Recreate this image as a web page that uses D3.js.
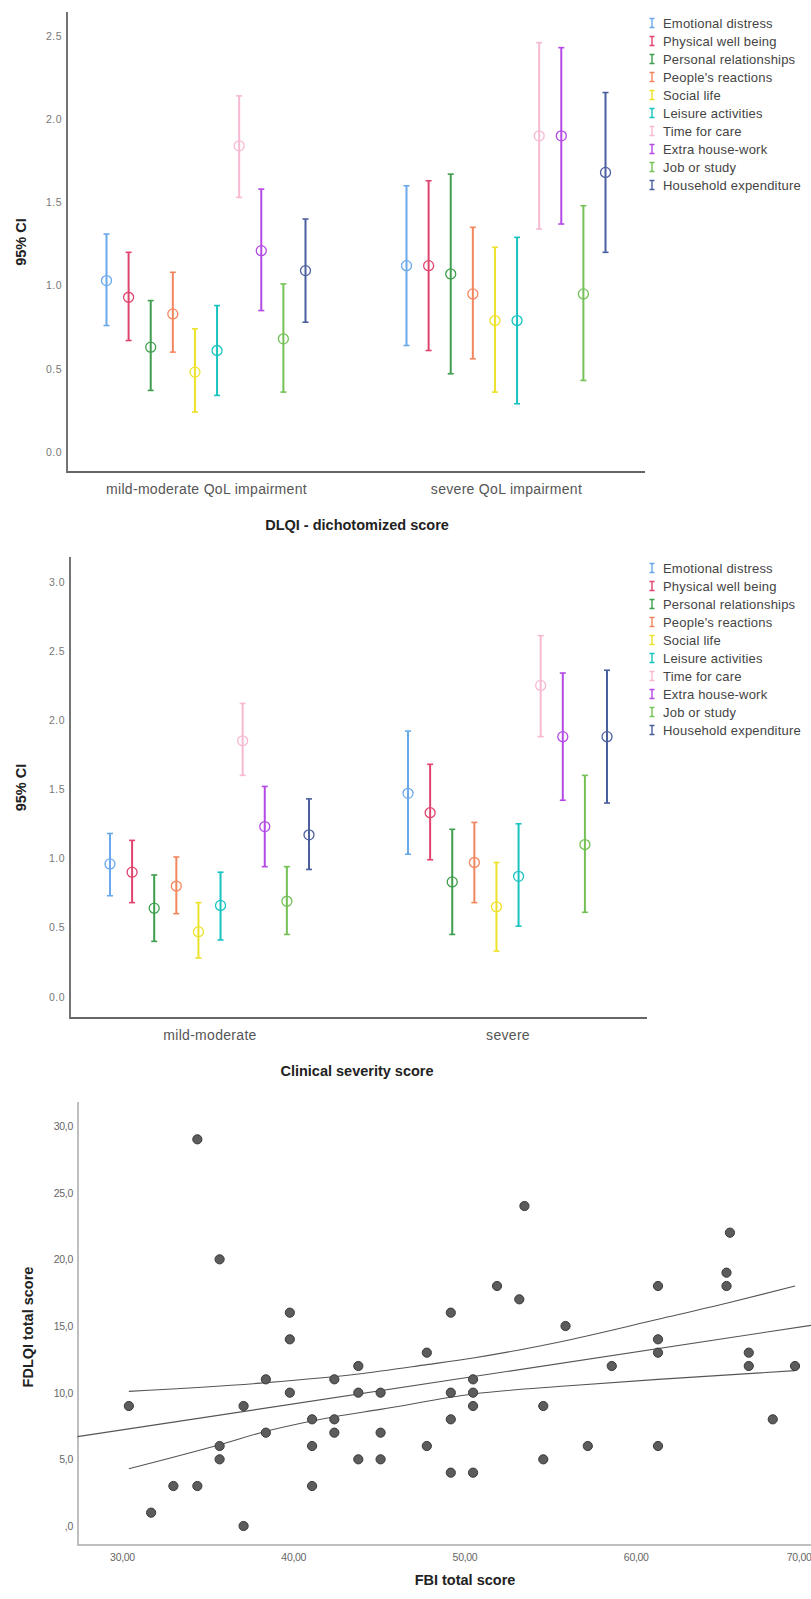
<html>
<meta charset="utf-8" />
<script src="https://d3js.org/d3.v7.min.js"></script>
<style>
  body { margin: 0; background: #fff; }
  text { font-family: "Liberation Sans", Arial, sans-serif; }
  .ci .tick text { fill: #777; font-size: 10.5px; letter-spacing: 0.5px; }
  .cat .tick text { fill: #555; font-size: 14px; letter-spacing: 0.3px; }
  .sc .tick text { fill: #666; font-size: 10.5px; letter-spacing: -0.3px; }
  .legend text { fill: #444; font-size: 13px; letter-spacing: 0.2px; }
  .ytitle, .xtitle { fill: #222; font-size: 14.5px; font-weight: bold; }
</style>
<body>
<svg id="fig" width="811" height="1599"></svg>
<script>
  // domains
  const series = [
    "Emotional distress", "Physical well being", "Personal relationships",
    "People's reactions", "Social life", "Leisure activities",
    "Time for care", "Extra house-work", "Job or study", "Household expenditure"
  ];
  const seriesColors = [
    "#6aa8ec", "#e0446e", "#3f9e4e", "#f3865e", "#ede22a",
    "#17c3c0", "#f7b9d2", "#b449e6", "#74c156", "#4a5f9e"
  ];

  // chart 1 : DLQI dichotomized
  const dlqiCats = ["mild-moderate QoL impairment", "severe QoL impairment"];
  const dlqiMeanMild = [1.03, 0.93, 0.63, 0.83, 0.48, 0.61, 1.84, 1.21, 0.68, 1.09];
  const dlqiLowMild  = [0.76, 0.67, 0.37, 0.60, 0.24, 0.34, 1.53, 0.85, 0.36, 0.78];
  const dlqiHighMild = [1.31, 1.20, 0.91, 1.08, 0.74, 0.88, 2.14, 1.58, 1.01, 1.40];
  const dlqiMeanSev  = [1.12, 1.12, 1.07, 0.95, 0.79, 0.79, 1.90, 1.90, 0.95, 1.68];
  const dlqiLowSev   = [0.64, 0.61, 0.47, 0.56, 0.36, 0.29, 1.34, 1.37, 0.43, 1.20];
  const dlqiHighSev  = [1.60, 1.63, 1.67, 1.35, 1.23, 1.29, 2.46, 2.43, 1.48, 2.16];
  const dlqiTicks = [0, 0.5, 1.0, 1.5, 2.0, 2.5];

  // chart 2 : clinical severity
  const sevCats = ["mild-moderate", "severe"];
  const sevMeanMild = [0.96, 0.90, 0.64, 0.80, 0.47, 0.66, 1.85, 1.23, 0.69, 1.17];
  const sevLowMild  = [0.73, 0.68, 0.40, 0.60, 0.28, 0.41, 1.60, 0.94, 0.45, 0.92];
  const sevHighMild = [1.18, 1.13, 0.88, 1.01, 0.68, 0.90, 2.12, 1.52, 0.94, 1.43];
  const sevMeanSev  = [1.47, 1.33, 0.83, 0.97, 0.65, 0.87, 2.25, 1.88, 1.10, 1.88];
  const sevLowSev   = [1.03, 0.99, 0.45, 0.68, 0.33, 0.51, 1.88, 1.42, 0.61, 1.40];
  const sevHighSev  = [1.92, 1.68, 1.21, 1.26, 0.97, 1.25, 2.61, 2.34, 1.60, 2.36];
  const sevTicks = [0, 0.5, 1.0, 1.5, 2.0, 2.5, 3.0];

  // chart 3 : scatter FBI vs FDLQI
  const fbi = [30.4, 31.7, 33.0, 34.4, 34.4, 35.7, 35.7, 35.7, 37.1, 37.1,
    38.4, 38.4, 39.8, 39.8, 39.8, 41.1, 41.1, 41.1, 42.4, 42.4, 42.4,
    43.8, 43.8, 43.8, 45.1, 45.1, 45.1, 47.8, 47.8, 49.2, 49.2, 49.2, 49.2,
    50.5, 50.5, 50.5, 50.5, 51.9, 53.2, 53.5, 54.6, 54.6, 55.9, 57.2, 58.6,
    61.3, 61.3, 61.3, 61.3, 65.3, 65.3, 65.5, 66.6, 66.6, 68.0, 69.3];
  const fdlqi = [9, 1, 3, 3, 29, 20, 6, 5, 9, 0,
    11, 7, 16, 14, 10, 8, 6, 3, 11, 8, 7,
    12, 10, 5, 10, 7, 5, 13, 6, 16, 10, 8, 4,
    11, 10, 9, 4, 18, 17, 24, 9, 5, 15, 6, 12,
    18, 14, 13, 6, 19, 18, 22, 13, 12, 8, 12];
  const fitX = [27.4, 70.5];
  const fitY = [6.7, 15.1];
  const ciUpX = [30.4, 38.4, 43.8, 47.8, 50.5, 55.9, 61.3, 65.3, 69.3];
  const ciUpY = [10.1, 10.75, 11.4, 12.1, 12.6, 13.9, 15.5, 16.7, 18.0];
  const ciLoX = [30.4, 35.7, 38.4, 42.4, 45.1, 50.5, 55.9, 61.3, 69.3];
  const ciLoY = [4.3, 6.1, 7.1, 8.2, 8.75, 9.9, 10.5, 11.0, 11.65];
  const scXTicks = [30, 40, 50, 60, 70];
  const scXLabels = ["30,00", "40,00", "50,00", "60,00", "70,00"];
  const scYTicks = [0, 5, 10, 15, 20, 25, 30];
  const scYLabels = [",0", "5,0", "10,0", "15,0", "20,0", "25,0", "30,0"];

  const svg = d3.select("#fig");

  function ciPanel(c) {
    const y = d3.scaleLinear().domain([0, c.ticks[c.ticks.length - 1]])
      .range([c.zeroY, c.maxY]);
    const x0 = d3.scalePoint().domain(c.cats).range([c.left, c.right]).padding(c.pad);
    const x1 = d3.scalePoint().domain(series).range([-99.5, 99.5]);

    svg.append("g").attr("class", "ci")
      .attr("transform", `translate(${c.left - 5},0)`)
      .call(d3.axisLeft(y).tickValues(c.ticks).tickSize(0).tickPadding(0)
        .tickFormat(d3.format(".1f")))
      .call(g => g.select(".domain").remove());

    svg.append("g").attr("class", "cat")
      .attr("transform", `translate(0,${c.bottom})`)
      .call(d3.axisBottom(x0).tickSize(0).tickPadding(12))
      .call(g => g.select(".domain").remove());

    svg.append("path")
      .attr("d", `M${c.left},${c.top}V${c.bottom}H${c.right}`)
      .attr("fill", "none").attr("stroke", "#666").attr("stroke-width", 1.8);

    const rows = [];
    c.cats.forEach((cat, ci) => {
      series.forEach((s, si) => {
        rows.push({
          x: x0(cat) + x1(s), m: c.mean[ci][si], lo: c.low[ci][si],
          hi: c.high[ci][si], col: seriesColors[si]
        });
      });
    });

    const g = svg.append("g").selectAll("g").data(rows).join("g");
    g.append("line").attr("x1", d => d.x).attr("x2", d => d.x)
      .attr("y1", d => y(d.lo)).attr("y2", d => y(d.hi))
      .attr("stroke", d => d.col).attr("stroke-width", 2);
    g.append("line").attr("x1", d => d.x - 3).attr("x2", d => d.x + 3)
      .attr("y1", d => y(d.hi)).attr("y2", d => y(d.hi))
      .attr("stroke", d => d.col).attr("stroke-width", 1.6);
    g.append("line").attr("x1", d => d.x - 3).attr("x2", d => d.x + 3)
      .attr("y1", d => y(d.lo)).attr("y2", d => y(d.lo))
      .attr("stroke", d => d.col).attr("stroke-width", 1.6);
    g.append("circle").attr("cx", d => d.x).attr("cy", d => y(d.m)).attr("r", 5)
      .attr("fill", "none").attr("stroke", d => d.col).attr("stroke-width", 1.3);

    svg.append("text").attr("class", "ytitle")
      .attr("transform", `translate(26,${(c.top + c.bottom) / 2}) rotate(-90)`)
      .attr("text-anchor", "middle").text("95% CI");

    svg.append("text").attr("class", "xtitle")
      .attr("x", 357).attr("y", c.titleY)
      .attr("text-anchor", "middle").text(c.title);

    const leg = svg.append("g").attr("class", "legend")
      .selectAll("g").data(series).join("g")
      .attr("transform", (d, i) => `translate(652,${c.legY + 18 * i})`);
    leg.append("path").attr("d", "M-2.5,-4.5H2.5M0,-4.5V4.5M-2.5,4.5H2.5")
      .attr("fill", "none").attr("stroke", (d, i) => seriesColors[i]).attr("stroke-width", 1.4);
    leg.append("text").attr("x", 11).attr("dy", "0.36em").text(d => d);
  }

  ciPanel({
    cats: dlqiCats, ticks: dlqiTicks,
    mean: [dlqiMeanMild, dlqiMeanSev], low: [dlqiLowMild, dlqiLowSev],
    high: [dlqiHighMild, dlqiHighSev],
    left: 67, right: 645, top: 12, bottom: 472, zeroY: 452, maxY: 36, pad: 0.4633,
    title: "DLQI - dichotomized score", titleY: 530, legY: 23
  });

  ciPanel({
    cats: sevCats, ticks: sevTicks,
    mean: [sevMeanMild, sevMeanSev], low: [sevLowMild, sevLowSev],
    high: [sevHighMild, sevHighSev],
    left: 70, right: 647, top: 557, bottom: 1018, zeroY: 996.7, maxY: 581.7, pad: 0.468,
    title: "Clinical severity score", titleY: 1076, legY: 568
  });

  // scatter
  const sx = d3.scaleLinear().domain([30, 70]).range([122, 807]);
  const sy = d3.scaleLinear().domain([0, 30]).range([1526, 1126]);
  const sLeft = 78, sTop = 1102, sBottom = 1545;

  svg.append("g").attr("class", "sc")
    .attr("transform", `translate(${sLeft - 5},0)`)
    .call(d3.axisLeft(sy).tickValues(scYTicks).tickSize(0).tickPadding(0)
      .tickFormat((d, i) => scYLabels[i]))
    .call(g => g.select(".domain").remove());

  svg.append("g").attr("class", "sc")
    .attr("transform", `translate(0,${sBottom})`)
    .call(d3.axisBottom(sx).tickValues(scXTicks).tickSize(0).tickPadding(9)
      .tickFormat((d, i) => scXLabels[i]))
    .call(g => g.select(".domain").remove())
    .call(g => g.selectAll(".tick:last-of-type text").attr("text-anchor", "end").attr("dx", 4));

  svg.append("path")
    .attr("d", `M${sLeft},${sTop}V${sBottom}H811`)
    .attr("fill", "none").attr("stroke", "#aaa").attr("stroke-width", 1.5);

  const line = d3.line().x(d => sx(d[0])).y(d => sy(d[1])).curve(d3.curveMonotoneX);
  const lines = [
    d3.zip(fitX, fitY), d3.zip(ciUpX, ciUpY), d3.zip(ciLoX, ciLoY)
  ];
  svg.append("g").selectAll("path").data(lines).join("path")
    .attr("d", line).attr("fill", "none").attr("stroke", "#555").attr("stroke-width", 1.1);

  svg.append("g").selectAll("circle").data(d3.zip(fbi, fdlqi)).join("circle")
    .attr("cx", d => sx(d[0])).attr("cy", d => sy(d[1])).attr("r", 4.6)
    .attr("fill", "#5c5c5c").attr("stroke", "#3a3a3a").attr("stroke-width", 1);

  svg.append("text").attr("class", "ytitle")
    .attr("transform", `translate(33,1327) rotate(-90)`)
    .attr("text-anchor", "middle").text("FDLQI total score");

  svg.append("text").attr("class", "xtitle")
    .attr("x", 465).attr("y", 1585)
    .attr("text-anchor", "middle").text("FBI total score");
</script>
</body>
</html>
